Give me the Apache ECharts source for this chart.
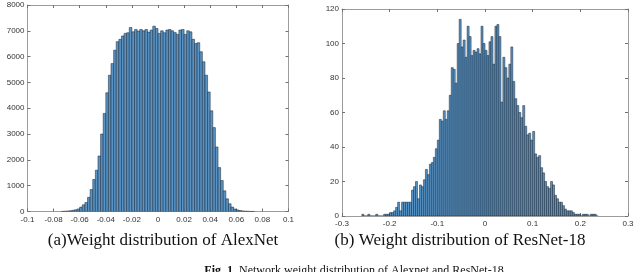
<!DOCTYPE html>
<html>
<head>
<meta charset="utf-8">
<script src="https://cdn.jsdelivr.net/npm/echarts@6/dist/echarts.min.js"></script>
<style>
html,body{margin:0;padding:0;background:#fff;}
#c{width:640px;height:272px;}
</style>
</head>
<body>
<div id="c"></div>
<script>
// ---- Data ----
// (a) AlexNet histogram: bins of width 0.002 starting at -0.074
const alexBinStart = -0.074;
const alexBinWidth = 0.002;
const alexCounts = [6, 12, 20, 30, 45, 65, 100, 170, 260, 350, 550, 850, 1240, 1600, 2150, 3000, 3800, 4600, 5280, 5730,
  6250, 6580, 6670, 6800, 6900, 6925, 7130, 6960, 7050, 6990, 7050, 7000, 7050, 6950, 7030, 7180, 7090,
  6900, 7000, 6925, 7030, 7050, 7000, 6930, 6860, 7030, 7050, 6860, 7000, 6960, 6670, 6510, 6540, 6190,
  5800, 5280, 4630, 3900, 3250, 2500, 1700, 1200, 800, 490, 300, 170, 95, 60, 38, 24, 14, 8, 4, 2];

// (b) ResNet-18 histogram: bins of width 1/240 starting at -62/240
const resBinStart = -62 / 240;
const resBinWidth = 1 / 240;
const resCounts = [1, 0, 0, 1, 0, 0, 0, 1, 0, 0, 0, 1, 1, 1, 2, 2, 3, 5, 8, 3,
  8, 8, 8, 8, 8, 15, 17, 20, 10, 18, 17, 21, 27, 24, 30, 31, 34, 39, 44, 56,
  55, 61, 56, 61, 70, 86, 85, 77, 100, 114, 98, 102, 92, 110, 104, 93, 96, 95, 97, 94,
  110, 100, 96, 93, 101, 104, 88, 110, 111, 104, 66, 92, 86, 80, 88, 98, 78, 68, 64, 60,
  57, 64, 52, 47, 48, 44, 49, 36, 34, 35, 28, 25, 20, 17, 16, 20, 18, 12, 10, 8,
  8, 6, 4, 3, 3, 3, 2, 1, 1, 1, 0, 1, 1, 1, 0, 1, 1, 1, 0];

// Axis ticks
const alexXTicks = { min: -0.1, max: 0.1, interval: 0.02 };
const alexYTicks = { min: 0, max: 8000, interval: 1000 };
const resXTicks = { min: -0.3, max: 0.3, interval: 0.1 };
const resYTicks = { min: 0, max: 120, interval: 20 };

// Captions
const captionA = '(a)Weight distribution of AlexNet';
const captionB = '(b) Weight distribution of ResNet-18';
const figCaptionBold = 'Fig. 1.';
const figCaptionRest = ' Network weight distribution of Alexnet and ResNet-18';

// ---- Build ----
function histData(start, width, counts) {
  return counts.map((c, i) => [start + i * width, start + (i + 1) * width, c]);
}

const barFill = '#5894c6';
const barStroke = 'rgba(25,35,48,0.85)';

function renderBar(params, api) {
  const p0 = api.coord([api.value(0), api.value(2)]);
  const p1 = api.coord([api.value(1), 0]);
  return {
    type: 'rect',
    shape: { x: p0[0], y: p0[1], width: p1[0] - p0[0], height: p1[1] - p0[1] },
    style: { fill: barFill, stroke: barStroke, lineWidth: 0.6 }
  };
}

const frameColor = '#9c9c9c';
const tickColor = '#707070';
const labelStyle = { fontSize: 8, fontFamily: 'Liberation Sans', color: '#333' };

function xAx(grid, t, pos, show) {
  return {
    type: 'value', gridIndex: grid, position: pos, min: t.min, max: t.max, interval: t.interval,
    axisLine: { show: true, onZero: false, lineStyle: { color: frameColor, width: 1 } },
    axisTick: { show: true, inside: true, length: 3, lineStyle: { color: tickColor } },
    axisLabel: show ? Object.assign({ margin: 4, formatter: v => String(+v.toFixed(2)) }, labelStyle) : { show: false },
    splitLine: { show: false }
  };
}
function yAx(grid, t, pos, show) {
  return {
    type: 'value', gridIndex: grid, position: pos, min: t.min, max: t.max, interval: t.interval,
    axisLine: { show: true, onZero: false, lineStyle: { color: frameColor, width: 1 } },
    axisTick: { show: true, inside: true, length: 3, lineStyle: { color: tickColor } },
    axisLabel: show ? Object.assign({ margin: 3, formatter: v => String(v) }, labelStyle) : { show: false },
    splitLine: { show: false }
  };
}

const chart = echarts.init(document.getElementById('c'), null, { renderer: 'canvas' });
chart.setOption({
  animation: false,
  backgroundColor: '#fff',
  grid: [
    { left: 27.5, top: 5, width: 261, height: 206.5 },
    { left: 342, top: 9, width: 286, height: 207 }
  ],
  xAxis: [
    xAx(0, alexXTicks, 'bottom', true),
    xAx(0, alexXTicks, 'top', false),
    xAx(1, resXTicks, 'bottom', true),
    xAx(1, resXTicks, 'top', false)
  ],
  yAxis: [
    yAx(0, alexYTicks, 'left', true),
    yAx(0, alexYTicks, 'right', false),
    yAx(1, resYTicks, 'left', true),
    yAx(1, resYTicks, 'right', false)
  ],
  series: [
    {
      type: 'custom', xAxisIndex: 0, yAxisIndex: 0, clip: true,
      data: histData(alexBinStart, alexBinWidth, alexCounts),
      encode: { x: [0, 1], y: 2 }, renderItem: renderBar
    },
    {
      type: 'custom', xAxisIndex: 2, yAxisIndex: 2, clip: true,
      data: histData(resBinStart, resBinWidth, resCounts),
      encode: { x: [0, 1], y: 2 }, renderItem: renderBar
    }
  ],
  graphic: [
    { type: 'text', x: 163, y: 241, style: { text: captionA, fontSize: 17, fontFamily: 'Liberation Serif', fill: '#111', align: 'center', verticalAlign: 'middle' } },
    { type: 'text', x: 460, y: 241, style: { text: captionB, fontSize: 17, fontFamily: 'Liberation Serif', fill: '#111', align: 'center', verticalAlign: 'middle' } },
    { type: 'text', x: 354, y: 265, style: {
        text: '{b|' + figCaptionBold + '}{n|' + figCaptionRest + '}',
        align: 'center', verticalAlign: 'top', fill: '#111',
        rich: {
          b: { fontSize: 12, fontFamily: 'Liberation Serif', fontWeight: 'bold', fill: '#111' },
          n: { fontSize: 12, fontFamily: 'Liberation Serif', fill: '#111' }
        }
    } }
  ]
});
</script>
</body>
</html>
